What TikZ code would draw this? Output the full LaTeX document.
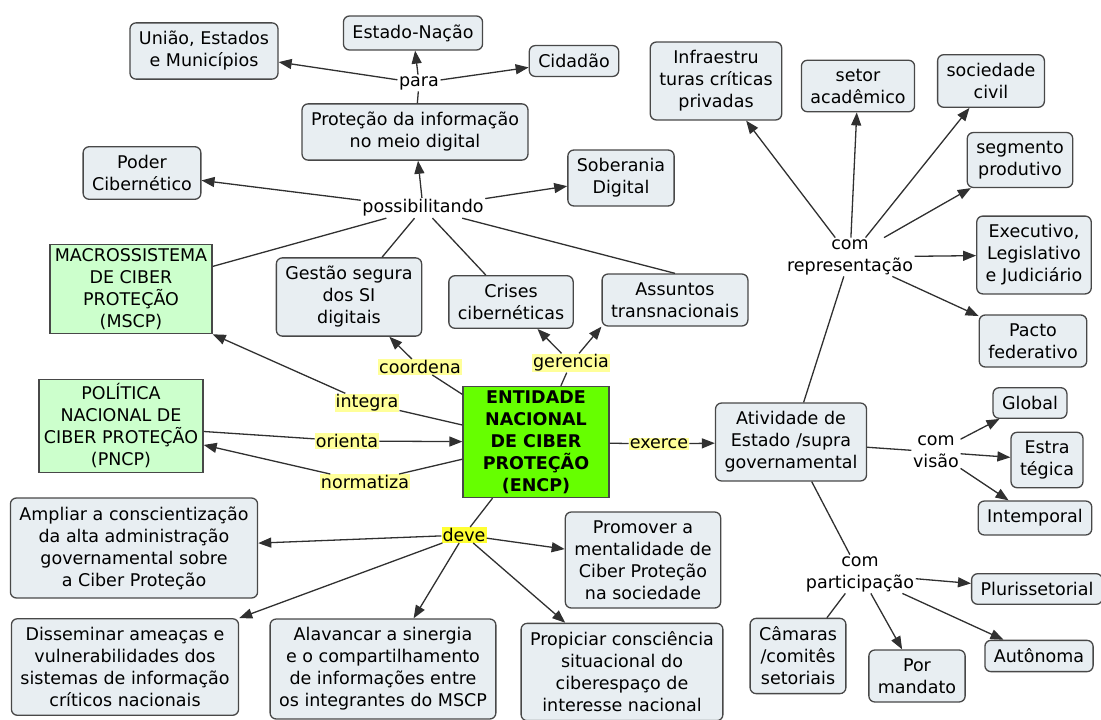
\documentclass[tikz,border=0pt]{standalone}
\usepackage{fontspec}
\setmainfont{DejaVu Sans}
\usepackage{tikz}
\usetikzlibrary{arrows.meta}
\usetikzlibrary{positioning}
\definecolor{boxfill}{HTML}{E8EEF2}
\definecolor{boxline}{HTML}{484848}
\definecolor{policyfill}{HTML}{CCFFCC}
\definecolor{entityfill}{HTML}{66FF00}
\definecolor{verbfill}{HTML}{FFFF99}
\definecolor{mustfill}{HTML}{FFFF33}
\definecolor{linkline}{HTML}{303030}
\newcommand*\mapfont{\fontsize{17.5}{22}\selectfont}
\tikzset{
    concept/.style = {draw=boxline,fill=boxfill,rounded corners=6pt,line width=1.3pt,align=center,inner xsep=9pt,inner ysep=8.5pt},
    policy/.style = {draw=boxline,fill=policyfill,line width=1.3pt,align=center,inner xsep=5pt,inner ysep=4pt},
    entity/.style = {policy,fill=entityfill,font=\mapfont\bfseries,minimum width=146pt},
    phrase/.style = {fill=white,align=center,inner sep=1.5pt},
    verb/.style = {fill=verbfill,inner sep=1pt}
}
\tikzset{
    link/.style = {draw=linkline,line width=1.3pt},
    linkto/.style = {link,-{Triangle[length=13pt,width=10pt]}}
}
\begin{document}
\begin{tikzpicture}[x=1pt,y=-1pt,font=\mapfont]
    \useasboundingbox (0,0) rectangle (1101,720);
    % Entity and policies
    \node[entity] (encp) at (536,442) {ENTIDADE\\NACIONAL\\DE CIBER\\PROTEÇÃO\\(ENCP)};
    \node[policy] (mscp) at (131,289) {MACROSSISTEMA\\DE CIBER\\PROTEÇÃO\\(MSCP)};
    \node[policy] (pncp) at (121,426) {POLÍTICA\\NACIONAL DE\\CIBER PROTEÇÃO\\(PNCP)};
    % Upper concepts
    \node[concept] (uniao) at (204,51) {União, Estados\\e Municípios};
    \node[concept] (estado) at (413,33) {Estado-Nação};
    \node[concept] (cidadao) at (574,61) {Cidadão};
    \node[concept] (protecao) at (415,132) {Proteção da informação\\no meio digital};
    \node[concept] (poder) at (142,173) {Poder\\Cibernético};
    \node[concept] (soberania) at (621,178) {Soberania\\Digital};
    \node[concept] (gestao) at (349,297) {Gestão segura\\dos SI\\digitais};
    \node[concept] (crises) at (511,302) {Crises\\cibernéticas};
    \node[concept] (assuntos) at (675,300) {Assuntos\\transnacionais};
    % Lower concepts
    \node[concept] (ampliar) at (134,548) {Ampliar a conscientização\\da alta administração\\governamental sobre\\a Ciber Proteção};
    \node[concept] (promover) at (643,560) {Promover a\\mentalidade de\\Ciber Proteção\\na sociedade};
    \node[concept] (disseminar) at (125,667) {Disseminar ameaças e\\vulnerabilidades dos\\sistemas de informação\\críticos nacionais};
    \node[concept] (alavancar) at (383,669) {Alavancar a sinergia\\e o compartilhamento\\de informações entre\\os integrantes do MSCP};
    \node[concept] (propiciar) at (622,672) {Propiciar consciência\\situacional do\\ciberespaço de\\interesse nacional};
    % State activity and its branches
    \node[concept] (atividade) at (791,442) {Atividade de\\Estado /supra\\governamental};
    \node[concept] (infra) at (716,81) {Infraestru\\turas críticas\\privadas};
    \node[concept] (setor) at (858,86) {setor\\acadêmico};
    \node[concept] (sociedade) at (991,81) {sociedade\\civil};
    \node[concept] (segmento) at (1020,160) {segmento\\produtivo};
    \node[concept] (executivo) at (1034,255) {Executivo,\\Legislativo\\e Judiciário};
    \node[concept] (pacto) at (1033,341) {Pacto\\federativo};
    \node[concept] (global) at (1030,403) {Global};
    \node[concept] (estrategica) at (1047,460) {Estra\\tégica};
    \node[concept] (intemporal) at (1035,518) {Intemporal};
    \node[concept] (pluri) at (1037,589) {Plurissetorial};
    \node[concept] (autonoma) at (1039,656) {Autônoma};
    \node[concept] (mandato) at (917,676) {Por\\mandato};
    \node[concept] (camaras) at (798,656) {Câmaras\\/comitês\\setoriais};
    % Linking phrases
    \node[phrase] (para) at (419,83) {para};
    \node[phrase] (possib) at (423,208) {possibilitando};
    \node[phrase] (comrep) at (850,257) {com\\representação};
    \node[phrase] (comvisao) at (936,452) {com\\visão};
    \node[phrase] (compart) at (860,574) {com\\participação};
    \node[verb] (coordena) at (420,367) {coordena};
    \node[verb] (gerencia) at (571,363) {gerencia};
    \node[verb] (integra) at (367,403) {integra};
    \node[verb] (orienta) at (347,441) {orienta};
    \node[verb] (normatiza) at (365,482) {normatiza};
    \node[verb] (exerce) at (659,444) {exerce};
    \node[verb,fill=mustfill] (deve) at (464,535) {deve};
    % Upper links
    \draw[link] (protecao) to (para);
    \foreach \dest in {uniao,estado,cidadao}
        \draw[linkto] (para) to (\dest);
    \foreach \src in {mscp,gestao,crises,assuntos.north}
        \draw[link] (\src) to (possib);
    \foreach \dest in {protecao,poder,soberania}
        \draw[linkto] (possib) to (\dest);
    % Entity links
    \foreach \via/\dest in {coordena/gestao,gerencia/crises,gerencia/assuntos.south west,integra/mscp.south east,normatiza/pncp,exerce/atividade}
        \draw[linkto] (\via) to (\dest);
    \foreach \via in {coordena,gerencia,integra,normatiza,exerce,deve}
        \draw[link] (encp) to (\via);
    \draw[link] (pncp) to (orienta);
    \draw[linkto] (orienta) to (encp);
    \foreach \dest in {ampliar,promover,disseminar.north east,alavancar,propiciar}
        \draw[linkto] (deve) to (\dest);
    % State activity links
    \foreach \via in {comrep,comvisao,compart}
        \draw[link] (atividade) to (\via);
    \foreach \dest in {infra,setor,sociedade,segmento,executivo,pacto}
        \draw[linkto] (comrep) to (\dest);
    \foreach \dest in {global,estrategica,intemporal}
        \draw[linkto] (comvisao) to (\dest);
    \foreach \dest in {pluri,autonoma,mandato}
        \draw[linkto] (compart) to (\dest);
    \draw[link] (compart) to (camaras);
\end{tikzpicture}
\end{document}
